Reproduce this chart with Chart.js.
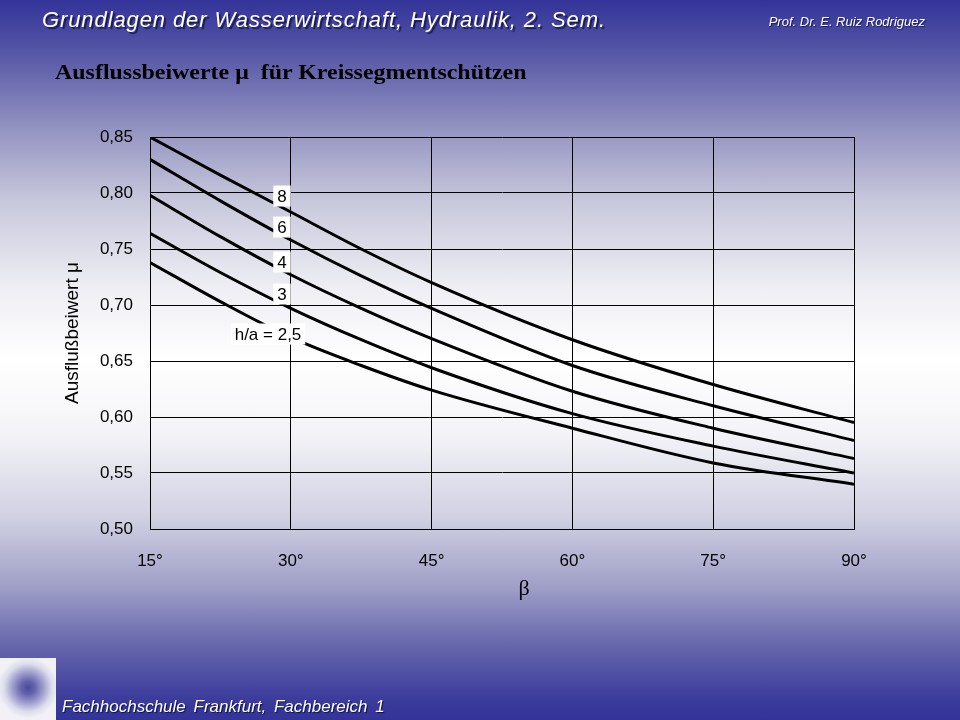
<!DOCTYPE html>
<html>
<head>
<meta charset="utf-8">
<script src="https://cdn.jsdelivr.net/npm/chart.js@4.4.1/dist/chart.umd.min.js"></script>
<style>
  html, body { margin:0; padding:0; }
  body {
    width:960px; height:720px; position:relative; overflow:hidden;
    font-family:"Liberation Sans", Arial, sans-serif;
    background:linear-gradient(to bottom, #333399 0%, #5a5aa8 8%, #9494c2 18%, #c8c8dc 28%, #eeeef4 40%, #ffffff 50%, #f4f4f8 60%, #d0d0e2 72%, #9c9cc6 82%, #6a6aae 89%, #3c3c9c 97%, #333399 100%);
  }
  #chart { position:absolute; left:0; top:0; }
  .txt { position:absolute; white-space:nowrap; }
  #hdr { left:42px; top:7px; font-size:22px; line-height:26px; letter-spacing:0.9px; font-style:italic; color:#fff; text-shadow:2px 2px 1px #1a1a50; }
  #prof { right:35px; top:15px; font-size:13px; line-height:14px; font-style:italic; color:#fff; text-shadow:1px 1px 1px #1a1a50; }
  #sub { left:55px; top:60px; font-family:"Liberation Serif", "Times New Roman", serif; font-weight:bold; font-size:21px; line-height:24px; color:#000; transform:scaleX(1.14); transform-origin:0 0; }
  #foot { left:62px; top:697px; font-size:17px; line-height:20px; font-style:italic; color:#fff; word-spacing:3px; text-shadow:1px 1px 1px #101040; }
  #logo { position:absolute; left:0; top:658px; width:56px; height:62px;
    background:radial-gradient(circle at 50% 48%, #4a4a9c 0%, #6464ac 16%, #9e9ecd 36%, #dcdcec 56%, #f2f2f6 72%); }
</style>
</head>
<body>
<canvas id="chart" width="960" height="720"></canvas>
<div class="txt" id="hdr">Grundlagen der Wasserwirtschaft, Hydraulik, 2. Sem.</div>
<div class="txt" id="prof">Prof. Dr. E. Ruiz Rodriguez</div>
<div class="txt" id="sub">Ausflussbeiwerte μ&nbsp; für Kreissegmentschützen</div>
<div id="logo"></div>
<div class="txt" id="foot">Fachhochschule Frankfurt, Fachbereich 1</div>
<script>
// angle beta in degrees
const betaDeg = [15, 22.5, 30, 37.5, 45, 60, 75, 90];
// discharge coefficient mu for each h/a
const muHa8  = [0.850, 0.816, 0.783, 0.750, 0.720, 0.669, 0.629, 0.595];
const muHa6  = [0.830, 0.793, 0.758, 0.726, 0.697, 0.646, 0.610, 0.579];
const muHa4  = [0.798, 0.761, 0.727, 0.697, 0.670, 0.623, 0.590, 0.563];
const muHa3  = [0.764, 0.729, 0.697, 0.669, 0.644, 0.603, 0.574, 0.550];
const muHa25 = [0.738, 0.703, 0.671, 0.646, 0.624, 0.590, 0.559, 0.540];
const seriesNames = ["8", "6", "4", "3", "h/a = 2,5"];
const seriesValues = [muHa8, muHa6, muHa4, muHa3, muHa25];

// where the curve labels sit (in beta / mu units)
const labelBeta = [29.06, 29.06, 29.06, 29.06, 27.57];
const labelMu   = [0.7973, 0.7696, 0.7384, 0.7098, 0.6741];

const FONT = '"Liberation Sans", Arial, sans-serif';

const curveLabels = {
  id: "curveLabels",
  afterDatasetsDraw(chart){
    const {ctx, scales:{x, y}} = chart;
    ctx.save();
    ctx.font = "17px " + FONT;
    ctx.textAlign = "center";
    ctx.textBaseline = "middle";
    seriesNames.forEach((t, i) => {
      const px = x.getPixelForValue(labelBeta[i]);
      const py = y.getPixelForValue(labelMu[i]);
      const w = ctx.measureText(t).width + 8, h = 21;
      ctx.fillStyle = "#fff";
      ctx.fillRect(px - w/2, py - h/2, w, h);
      ctx.fillStyle = "#000";
      ctx.fillText(t, px, py + 1);
    });
    ctx.restore();
  }
};

new Chart(document.getElementById("chart"), {
  type: "line",
  data: {
    datasets: seriesValues.map((vals, i) => ({
      label: seriesNames[i],
      data: betaDeg.map((b, k) => ({x: b, y: vals[k]})),
      borderColor: "#000",
      borderWidth: 3,
      pointRadius: 0,
      fill: false,
      cubicInterpolationMode: "monotone"
    }))
  },
  options: {
    responsive: false,
    animation: false,
    devicePixelRatio: 1,
    layout: { padding: {left:0, right:106, top:137, bottom:0} },
    plugins: { legend: {display:false}, tooltip: {enabled:false} },
    scales: {
      x: {
        type: "linear", min: 15, max: 90,
        afterFit: s => { s.height = 191; },
        ticks: { stepSize: 15, color: "#000", padding: 22, font: {family: FONT, size: 17},
                 callback: v => v + "°" },
        grid: { color: "#000", lineWidth: 1, drawTicks: false },
        border: { color: "#000", width: 1 },
        title: { display: true, text: "\u2003\u2003β", color: "#000",
                 font: {family: '"Liberation Serif", "Times New Roman", serif', size: 22},
                 padding: {top: 0, bottom: 118} }
      },
      y: {
        min: 0.5, max: 0.85,
        afterFit: s => { s.width = 150; },
        ticks: { stepSize: 0.05, color: "#000", padding: 17, font: {family: FONT, size: 17},
                 callback: v => v.toFixed(2).replace(".", ",") },
        grid: { color: "#000", lineWidth: 1, drawTicks: false },
        border: { color: "#000", width: 1 },
        title: { display: true, text: "Ausflußbeiwert μ", color: "#000",
                 font: {family: FONT, size: 19}, padding: {top: 61, bottom: 0} }
      }
    }
  },
  plugins: [curveLabels]
});
</script>
</body>
</html>
